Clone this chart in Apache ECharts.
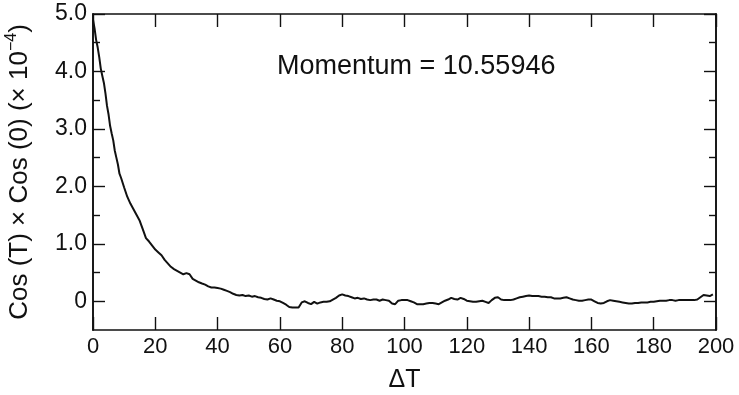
<!DOCTYPE html>
<html>
<head>
<meta charset="utf-8">
<script src="https://cdn.jsdelivr.net/npm/echarts@6/dist/echarts.min.js"></script>
<style>
  html, body { margin: 0; padding: 0; background: #fff; }
  #chart { width: 739px; height: 395px; }
</style>
</head>
<body>
<div id="chart"></div>
<script>
// Autocorrelation of the cosine observable versus time separation ΔT
const dT = [
  0, 0.5, 1, 1.5, 2, 2.5, 3, 3.5, 4, 4.5, 5, 5.5, 6, 6.5, 7, 7.5, 8, 8.5, 9,
  10, 11, 12, 13, 14, 15, 16, 17, 18, 19, 20, 21, 22, 23, 24, 25, 26, 27, 28, 29,
  30, 31, 32, 33, 34, 35, 36, 37, 38, 39, 40, 41, 42, 43, 44, 45, 46, 47, 48, 49,
  50, 51, 52, 53, 54, 55, 56, 57, 58, 59, 60, 61, 62, 63, 64, 65, 66, 67, 68, 69,
  70, 71, 72, 73, 74, 75, 76, 77, 78, 79, 80, 81, 82, 83, 84, 85, 86, 87, 88, 89,
  90, 91, 92, 93, 94, 95, 96, 97, 98, 99, 100, 101, 102, 103, 104, 105, 106, 107, 108, 109,
  110, 111, 112, 113, 114, 115, 116, 117, 118, 119, 120, 121, 122, 123, 124, 125, 126, 127, 128, 129,
  130, 131, 132, 133, 134, 135, 136, 137, 138, 139, 140, 141, 142, 143, 144, 145, 146, 147, 148, 149,
  150, 151, 152, 153, 154, 155, 156, 157, 158, 159, 160, 161, 162, 163, 164, 165, 166, 167, 168, 169,
  170, 171, 172, 173, 174, 175, 176, 177, 178, 179, 180, 181, 182, 183, 184, 185, 186, 187, 188, 189,
  190, 191, 192, 193, 194, 195, 196, 197, 198, 199
];

// Cos(T) x Cos(0), in units of 1e-4
const corr = [
  4.90, 4.75, 4.55, 4.42, 4.25, 4.05, 3.92, 3.80, 3.62, 3.40, 3.25, 3.05, 2.92, 2.80, 2.62, 2.50, 2.38, 2.22, 2.15,
  1.98, 1.82, 1.70, 1.60, 1.50, 1.40, 1.25, 1.10, 1.04, 0.97, 0.90, 0.85, 0.80, 0.72, 0.66, 0.60, 0.56, 0.53, 0.50, 0.47,
  0.49, 0.47, 0.39, 0.36, 0.33, 0.31, 0.29, 0.26, 0.24, 0.24, 0.23, 0.22, 0.20, 0.18, 0.16, 0.13, 0.11, 0.10, 0.11, 0.09,
  0.10, 0.08, 0.09, 0.07, 0.06, 0.04, 0.03, 0.05, 0.03, 0.01, 0.00, -0.03, -0.06, -0.10, -0.11, -0.11, -0.11, -0.02, 0.00, -0.03,
  -0.05, -0.01, -0.04, -0.02, -0.01, -0.01, 0.00, 0.03, 0.06, 0.10, 0.12, 0.10, 0.09, 0.07, 0.05, 0.06, 0.04, 0.05, 0.03, 0.02,
  0.03, 0.03, 0.01, 0.03, 0.02, 0.01, -0.04, -0.05, 0.01, 0.02, 0.02, 0.02, 0.00, -0.02, -0.05, -0.05, -0.05, -0.04, -0.03, -0.03,
  -0.04, -0.05, -0.02, 0.01, 0.03, 0.06, 0.04, 0.03, 0.06, 0.04, 0.01, 0.00, -0.01, -0.01, 0.00, 0.01, -0.01, -0.03, 0.02, 0.06,
  0.07, 0.03, 0.02, 0.02, 0.02, 0.03, 0.05, 0.07, 0.08, 0.09, 0.10, 0.09, 0.09, 0.09, 0.08, 0.08, 0.07, 0.07, 0.05, 0.05,
  0.05, 0.06, 0.07, 0.05, 0.03, 0.02, 0.01, 0.01, 0.02, 0.03, 0.03, 0.00, -0.03, -0.04, -0.03, 0.00, 0.02, 0.01, 0.00, -0.01,
  -0.02, -0.03, -0.04, -0.04, -0.03, -0.03, -0.02, -0.02, -0.02, -0.01, -0.01, 0.00, 0.01, 0.01, 0.01, 0.02, 0.02, 0.01, 0.02, 0.02,
  0.02, 0.02, 0.02, 0.02, 0.03, 0.07, 0.11, 0.10, 0.09, 0.12
];

const xTicks = [0, 20, 40, 60, 80, 100, 120, 140, 160, 180, 200];
const yMajor = [0, 1, 2, 3, 4, 5];
const yMinor = [0.5, 1.5, 2.5, 3.5, 4.5];
const momentumLabel = 'Momentum = 10.55946';

const FONT = '"Liberation Sans", Arial, sans-serif';
const INK = '#111';

const chart = echarts.init(document.getElementById('chart'), null, { renderer: 'canvas' });

const frameLine = { color: INK, width: 1.6 };

function yAxisDef(position, ticks, len, withLabels) {
  return {
    type: 'value',
    position: position,
    min: -0.5,
    max: 5,
    axisLine: { show: true, onZero: false, lineStyle: frameLine },
    axisTick: {
      show: true, inside: true, length: len,
      customValues: ticks,
      lineStyle: { color: INK, width: 1.4 }
    },
    axisLabel: withLabels ? {
      show: true,
      customValues: ticks,
      margin: 6,
      color: INK,
      fontFamily: FONT,
      fontSize: 23,
      formatter: v => (v === 0 ? '0' : v.toFixed(1))
    } : { show: false },
    splitLine: { show: false }
  };
}

const leftMain = yAxisDef('left', yMajor, 12, true);
leftMain.name = '{a|Cos (T) × Cos (0) (× 10}{s|−4}{a|)}';
leftMain.nameLocation = 'middle';
leftMain.nameGap = 57;
leftMain.nameTextStyle = {
  rich: {
    a: { fontFamily: FONT, fontSize: 26, color: INK, lineHeight: 32 },
    s: { fontFamily: FONT, fontSize: 16, color: INK, verticalAlign: 'top', lineHeight: 32 }
  }
};

function xAxisDef(position, withLabels) {
  const ax = {
    type: 'value',
    position: position,
    min: 0, max: 200, interval: 20,
    axisLine: { show: true, onZero: false, lineStyle: frameLine },
    axisTick: { show: true, inside: true, length: 13, lineStyle: { color: INK, width: 1.4 } },
    axisLabel: { show: false },
    splitLine: { show: false }
  };
  if (withLabels) {
    ax.name = 'ΔT';
    ax.nameLocation = 'middle';
    ax.nameGap = 38;
    ax.nameTextStyle = { fontFamily: FONT, fontSize: 25, color: INK };
    ax.axisLabel = {
      show: true, margin: 6, color: INK, fontFamily: FONT, fontSize: 22,
      customValues: xTicks
    };
  }
  return ax;
}

chart.setOption({
  animation: false,
  backgroundColor: '#fff',
  grid: {
    left: 93, right: 23, top: 14, bottom: 65,
    containLabel: false,
    outerBoundsMode: 'none'
  },
  title: {
    text: momentumLabel,
    left: 272,
    top: 48,
    textStyle: { fontFamily: FONT, fontSize: 27, fontWeight: 'normal', color: INK }
  },
  xAxis: [xAxisDef('bottom', true), xAxisDef('top', false)],
  yAxis: [
    leftMain,
    yAxisDef('left', yMinor, 7, false),
    yAxisDef('right', yMajor, 12, false),
    yAxisDef('right', yMinor, 7, false)
  ],
  series: [
    {
      type: 'line',
      xAxisIndex: 0,
      yAxisIndex: 0,
      data: dT.map((t, i) => [t, corr[i]]),
      showSymbol: false,
      symbol: 'none',
      smooth: false,
      lineStyle: { color: INK, width: 2 },
      silent: true
    }
  ]
});
</script>
</body>
</html>
